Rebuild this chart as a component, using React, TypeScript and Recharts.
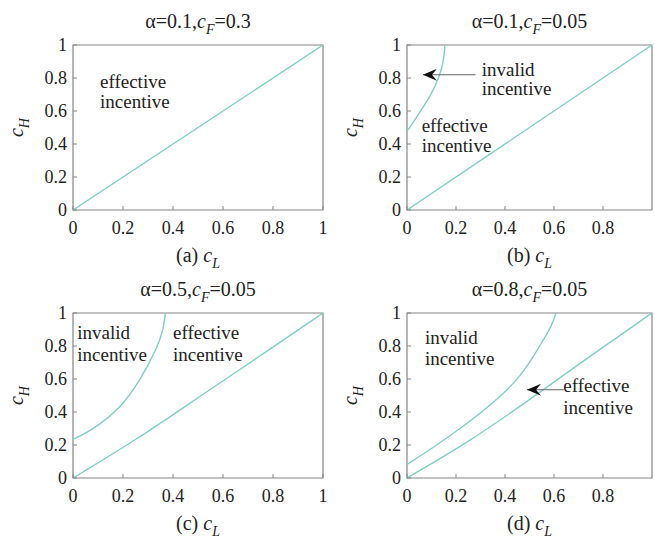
import {
  ComposedChart,
  Line,
  XAxis,
  YAxis,
  ReferenceArea,
  ReferenceDot
} from "recharts";

// =========================
// DATA
// =========================

const fullTicks = [0, 0.2, 0.4, 0.6, 0.8, 1];
const cutTicks = [0, 0.2, 0.4, 0.6, 0.8]; // right panels are cropped at c_L = 1

// c_H = c_L boundary
const diagL = [0, 1];
const diagH = [0, 1];

// (b) alpha=0.1, cF=0.05
const bCurveL = [0, 0.012, 0.053, 0.1, 0.132, 0.148, 0.155];
const bCurveH = [0.48, 0.5, 0.595, 0.7, 0.81, 0.89, 1];

// (c) alpha=0.5, cF=0.05
const cCurveL = [0, 0.037, 0.104, 0.185, 0.252, 0.305, 0.332, 0.359, 0.37];
const cCurveH = [0.235, 0.26, 0.32, 0.42, 0.554, 0.697, 0.78, 0.88, 1];
const cLowerL = [0, 0.25, 0.5, 0.75, 1];
const cLowerH = [0, 0.228, 0.487, 0.742, 1];

// (d) alpha=0.8, cF=0.05
const dCurveL = [0, 0.107, 0.244, 0.38, 0.461, 0.516, 0.557, 0.59, 0.608];
const dCurveH = [0.082, 0.184, 0.327, 0.49, 0.613, 0.736, 0.839, 0.92, 1];
const dLowerL = [0, 0.244, 0.516, 0.75, 1];
const dLowerH = [0, 0.21, 0.49, 0.742, 1];

// annotations (data coords, text baseline)
const aNotes = [
  { x: 0.108, y: 0.74, text: "effective" },
  { x: 0.108, y: 0.62, text: "incentive" }
];
const bNotes = [
  { x: 0.305, y: 0.815, text: "invalid" },
  { x: 0.305, y: 0.7, text: "incentive" },
  { x: 0.06, y: 0.47, text: "effective" },
  { x: 0.06, y: 0.35, text: "incentive" }
];
const cNotes = [
  { x: 0.017, y: 0.843, text: "invalid" },
  { x: 0.017, y: 0.71, text: "incentive" },
  { x: 0.4, y: 0.843, text: "effective" },
  { x: 0.4, y: 0.71, text: "incentive" }
];
const dNotes = [
  { x: 0.073, y: 0.81, text: "invalid" },
  { x: 0.073, y: 0.685, text: "incentive" },
  { x: 0.638, y: 0.52, text: "effective" },
  { x: 0.638, y: 0.39, text: "incentive" }
];

// arrows: tail -> tip
const bArrowL = [0.28, 0.065];
const bArrowH = [0.82, 0.82];
const dArrowL = [0.64, 0.49];
const dArrowH = [0.535, 0.535];

// =========================
// STYLE
// =========================

const FONT = "Liberation Serif, DejaVu Serif, serif";
const CURVE = "#80cfc6";
const AXIS = "#858585";
const INK = "#222";

const toPts = (xs: number[], ys: number[]) =>
  xs.map((x, i) => ({ x, y: ys[i] }));

type Note = { x: number; y: number; text: string };

interface PanelProps {
  tag: string;
  alpha: string;
  cF: string;
  left: number;
  top: number;
  width: number;
  height: number;
  yW: number;
  mTop: number;
  mRight: number;
  xH: number;
  xTicks: number[];
  curves: { x: number; y: number }[][];
  notes: Note[];
  arrow?: { x: number; y: number }[];
}

// matlab-ish filled arrow head pointing left
function ArrowHead(p: any) {
  const { cx, cy } = p;
  return (
    <polygon
      points={`${cx},${cy} ${cx + 14},${cy - 6} ${cx + 9},${cy} ${cx + 14},${cy + 6}`}
      fill="#111"
    />
  );
}

function Panel(props: PanelProps) {
  const {
    tag, alpha, cF, left, top, width, height, yW, mTop, mRight, xH,
    xTicks, curves, notes, arrow
  } = props;

  const tickStyle = { fontSize: 18, fill: INK, fontFamily: FONT };

  return (
    <div style={{ position: "absolute", left, top, fontFamily: FONT }}>
      <ComposedChart
        width={width}
        height={height}
        margin={{ top: mTop, right: mRight, left: 0, bottom: 0 }}
        style={{ fontFamily: FONT }}
      >
        <XAxis
          type="number"
          dataKey="x"
          domain={[0, 1]}
          ticks={xTicks}
          interval={0}
          allowDataOverflow
          height={xH}
          axisLine={false}
          tickSize={-4}
          tickMargin={15}
          tickLine={{ stroke: AXIS }}
          tick={tickStyle}
          label={(lp: any) => {
            const vb = lp.viewBox;
            return (
              <text
                x={vb.x + vb.width / 2}
                y={vb.y + 52}
                textAnchor="middle"
                fontFamily={FONT}
                fontSize={20}
                fill={INK}
              >
                ({tag}) <tspan fontStyle="italic">c</tspan>
                <tspan fontStyle="italic" fontSize={14} dy={6}>L</tspan>
              </text>
            );
          }}
        />
        <YAxis
          type="number"
          domain={[0, 1]}
          ticks={fullTicks}
          interval={0}
          allowDataOverflow
          width={yW}
          axisLine={false}
          tickSize={-4}
          tickMargin={10}
          tickLine={{ stroke: AXIS }}
          tick={tickStyle}
          label={(lp: any) => {
            const vb = lp.viewBox;
            const cx = vb.x + vb.width - 56;
            const cy = vb.y + vb.height / 2;
            return (
              <text
                x={cx}
                y={cy + 6}
                textAnchor="middle"
                transform={`rotate(-90, ${cx}, ${cy})`}
                fontFamily={FONT}
                fontSize={20}
                fill={INK}
              >
                <tspan fontStyle="italic">c</tspan>
                <tspan fontStyle="italic" fontSize={14} dy={6}>H</tspan>
              </text>
            );
          }}
        />

        <ReferenceArea
          x1={0}
          x2={1}
          y1={0}
          y2={1}
          fill="none"
          stroke={AXIS}
          strokeWidth={1.2}
        />

        {/* title, anchored at the top centre of the box */}
        <ReferenceDot
          x={0.5}
          y={1}
          r={0}
          shape={(p: any) => (
            <text
              x={p.cx}
              y={p.cy - 17}
              textAnchor="middle"
              fontFamily={FONT}
              fontSize={20}
              fill={INK}
            >
              α={alpha},<tspan fontStyle="italic">c</tspan>
              <tspan fontStyle="italic" fontSize={14} dy={6}>F</tspan>
              <tspan dy={-6}>={cF}</tspan>
            </text>
          )}
        />

        {curves.map((pts, i) => (
          <Line
            key={i}
            data={pts}
            dataKey="y"
            type="basis"
            stroke={CURVE}
            strokeWidth={1.4}
            dot={false}
            activeDot={false}
            isAnimationActive={false}
          />
        ))}

        {arrow && (
          <Line
            data={arrow}
            dataKey="y"
            stroke="#666"
            strokeWidth={1.1}
            dot={false}
            activeDot={false}
            isAnimationActive={false}
          />
        )}
        {arrow && (
          <ReferenceDot
            x={arrow[arrow.length - 1].x}
            y={arrow[arrow.length - 1].y}
            r={0}
            shape={ArrowHead}
          />
        )}

        {notes.map((n, i) => (
          <ReferenceDot
            key={`n${i}`}
            x={n.x}
            y={n.y}
            r={0}
            shape={(p: any) => (
              <text
                x={p.cx}
                y={p.cy}
                fontFamily={FONT}
                fontSize={19}
                fill={INK}
              >
                {n.text}
              </text>
            )}
          />
        ))}
      </ComposedChart>
    </div>
  );
}

export default function App() {
  return (
    <div
      style={{
        position: "absolute",
        left: 0,
        top: 0,
        width: 655,
        height: 540,
        overflow: "hidden",
        background: "#fff"
      }}
    >
      <Panel
        tag="a" alpha="0.1" cF="0.3"
        left={0} top={0} width={330} height={270}
        yW={73} mTop={45} mRight={7} xH={60}
        xTicks={fullTicks}
        curves={[toPts(diagL, diagH)]}
        notes={aNotes}
      />
      <Panel
        tag="b" alpha="0.1" cF="0.05"
        left={330} top={0} width={325} height={270}
        yW={77} mTop={45} mRight={3} xH={60}
        xTicks={cutTicks}
        curves={[toPts(diagL, diagH), toPts(bCurveL, bCurveH)]}
        notes={bNotes}
        arrow={toPts(bArrowL, bArrowH)}
      />
      <Panel
        tag="c" alpha="0.5" cF="0.05"
        left={0} top={270} width={330} height={270}
        yW={73} mTop={43} mRight={7} xH={62}
        xTicks={fullTicks}
        curves={[toPts(cLowerL, cLowerH), toPts(cCurveL, cCurveH)]}
        notes={cNotes}
      />
      <Panel
        tag="d" alpha="0.8" cF="0.05"
        left={330} top={270} width={325} height={270}
        yW={77} mTop={43} mRight={3} xH={62}
        xTicks={cutTicks}
        curves={[toPts(dLowerL, dLowerH), toPts(dCurveL, dCurveH)]}
        notes={dNotes}
        arrow={toPts(dArrowL, dArrowH)}
      />
    </div>
  );
}
